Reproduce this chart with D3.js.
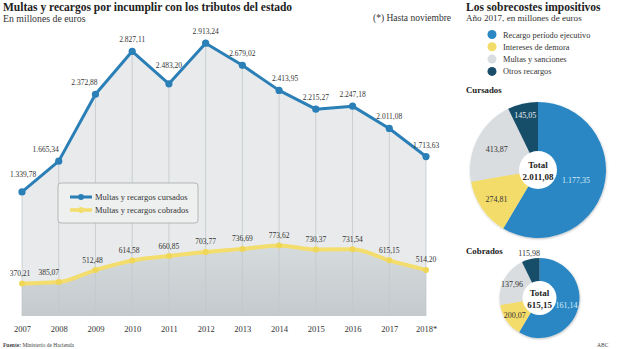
<!DOCTYPE html>
<html>
<head>
<meta charset="utf-8">
<script src="https://cdn.jsdelivr.net/npm/d3@7.9.0/dist/d3.min.js"></script>
<style>
  body { margin: 0; background: #fff; }
  svg { display: block; font-family: "Liberation Serif", "DejaVu Serif", serif; }
</style>
</head>
<body>
<svg id="chart" width="620" height="349"></svg>
<script>
// line chart data
const years = ['2007', '2008', '2009', '2010', '2011', '2012', '2013', '2014', '2015', '2016', '2017', '2018*'];
const cursados = [1339.78, 1665.34, 2372.88, 2827.11, 2483.20, 2913.24, 2679.02, 2413.95, 2215.27, 2247.18, 2011.08, 1713.63];
const cobrados = [370.21, 385.07, 512.48, 614.58, 660.85, 703.77, 736.69, 773.62, 730.37, 731.54, 615.15, 514.20];

// pie data (2017)
const pieCategories = ['Recargo período ejecutivo', 'Intereses de demora', 'Multas y sanciones', 'Otros recargos'];
const pieCursados = [1177.35, 274.81, 413.87, 145.05];
const pieCobrados = [161.14, 200.07, 137.96, 115.98];

const pieColors = ['#2b87c3', '#f4dc6b', '#d9dde0', '#194d69'];
const pieTextColors = ['#d6ecfa', '#333', '#333', '#e8f1f6'];

const fmt = d3.formatLocale({ decimal: ',', thousands: '.', grouping: [3] }).format(',.2f');

const svg = d3.select('#chart');

// ---- titles
svg.append('text').attr('x', 3).attr('y', 11)
  .attr('font-size', 11.5).attr('font-weight', 'bold').attr('fill', '#222')
  .text('Multas y recargos por incumplir con los tributos del estado');
svg.append('text').attr('x', 3).attr('y', 22)
  .attr('font-size', 9.8).attr('fill', '#333')
  .text('En millones de euros');
svg.append('text').attr('x', 373).attr('y', 21)
  .attr('font-size', 9.5).attr('fill', '#333')
  .text('(*) Hasta noviembre');

// ---- line chart
const x = d3.scalePoint().domain(years).range([22, 426]);
const y = d3.scaleLinear().domain([0, 3000]).range([318.5, 35]);
const bottom = 316;

const rows = years.map((yr, i) => ({ yr, a: cursados[i], b: cobrados[i] }));

const defs = svg.append('defs');
const grad = defs.append('linearGradient').attr('id', 'yellowArea')
  .attr('x1', 0).attr('x2', 0).attr('y1', 0).attr('y2', 1);
grad.append('stop').attr('offset', '0%').attr('stop-color', '#d6dbdd');
grad.append('stop').attr('offset', '100%').attr('stop-color', '#c4cacd');

svg.append('path')
  .datum(rows)
  .attr('fill', '#e8eaeb')
  .attr('d', d3.area().x(d => x(d.yr)).y0(bottom).y1(d => y(d.a)));

svg.append('path')
  .datum(rows)
  .attr('fill', 'url(#yellowArea)')
  .attr('d', d3.area().curve(d3.curveMonotoneX).x(d => x(d.yr)).y0(bottom).y1(d => y(d.b)));

// vertical gridlines
svg.append('g')
  .selectAll('line')
  .data(rows)
  .join('line')
  .attr('x1', d => x(d.yr)).attr('x2', d => x(d.yr))
  .attr('y1', d => y(d.a)).attr('y2', bottom)
  .attr('stroke', '#c3c8cb').attr('stroke-width', 0.8);

// year labels
svg.append('g')
  .attr('transform', `translate(0, ${bottom})`)
  .call(d3.axisBottom(x).tickSize(0).tickPadding(10))
  .call(g => g.select('.domain').remove())
  .call(g => g.selectAll('text')
    .attr('font-family', '"Liberation Serif", serif')
    .attr('font-size', 8.5).attr('fill', '#333'));

// cobrados line
svg.append('path')
  .datum(rows)
  .attr('fill', 'none')
  .attr('stroke', '#f3dd6c').attr('stroke-width', 4)
  .attr('d', d3.line().curve(d3.curveMonotoneX).x(d => x(d.yr)).y(d => y(d.b)));
svg.append('g').selectAll('circle')
  .data(rows).join('circle')
  .attr('cx', d => x(d.yr)).attr('cy', d => y(d.b))
  .attr('r', 3).attr('fill', '#f0d656');

// cursados line
svg.append('path')
  .datum(rows)
  .attr('fill', 'none')
  .attr('stroke', '#2b7fb7').attr('stroke-width', 3)
  .attr('stroke-linejoin', 'round')
  .attr('d', d3.line().x(d => x(d.yr)).y(d => y(d.a)));
svg.append('g').selectAll('circle')
  .data(rows).join('circle')
  .attr('cx', d => x(d.yr)).attr('cy', d => y(d.a))
  .attr('r', 3.6).attr('fill', '#2b7fb7');

// value labels (small nudges so they don't sit on the line)
const nudgeA = { '2008': [-13, 0], '2009': [-11, 0], '2014': [6, 0], '2007': [1, -6], '2011': [0, -7] };
const nudgeB = { '2007': [-2, 0], '2008': [-10, 0], '2009': [-3, 0], '2010': [-3, 0] };

svg.append('g').selectAll('text')
  .data(rows).join('text')
  .attr('x', d => x(d.yr) + (nudgeA[d.yr] || [0, 0])[0])
  .attr('y', d => y(d.a) - 9 + (nudgeA[d.yr] || [0, 0])[1])
  .attr('text-anchor', 'middle')
  .attr('font-size', 7.5).attr('fill', '#333')
  .text(d => fmt(d.a));

svg.append('g').selectAll('text')
  .data(rows).join('text')
  .attr('x', d => x(d.yr) + (nudgeB[d.yr] || [0, 0])[0])
  .attr('y', d => y(d.b) - 7.5)
  .attr('text-anchor', 'middle')
  .attr('font-size', 7.5).attr('fill', '#333')
  .text(d => fmt(d.b));

// legend box
const lg = svg.append('g').attr('transform', 'translate(58,183)');
lg.append('rect').attr('width', 140).attr('height', 40).attr('rx', 3)
  .attr('fill', '#eef0f0').attr('stroke', '#a5a8aa').attr('stroke-width', 0.8);
[['Multas y recargos cursados', '#2b7fb7', 3], ['Multas y recargos cobrados', '#f3dd6c', 3.5]].forEach(([label, col, w], i) => {
  const gy = 14 + i * 13;
  lg.append('line').attr('x1', 12).attr('x2', 34).attr('y1', gy).attr('y2', gy)
    .attr('stroke', col).attr('stroke-width', w);
  lg.append('circle').attr('cx', 23).attr('cy', gy).attr('r', 3).attr('fill', col);
  lg.append('text').attr('x', 37).attr('y', gy + 3)
    .attr('font-size', 8.5).attr('fill', '#333').text(label);
});

// ---- pies
svg.append('text').attr('x', 466).attr('y', 11)
  .attr('font-size', 11.5).attr('font-weight', 'bold').attr('fill', '#222')
  .text('Los sobrecostes impositivos');
svg.append('text').attr('x', 466).attr('y', 21)
  .attr('font-size', 9.1).attr('fill', '#333')
  .text('Año 2017, en millones de euros');

const pl = svg.append('g').selectAll('g')
  .data(pieCategories).join('g')
  .attr('transform', (d, i) => `translate(492, ${34.5 + i * 12.3})`);
pl.append('circle').attr('r', 4.5).attr('fill', (d, i) => pieColors[i]);
pl.append('text').attr('x', 11).attr('y', 3)
  .attr('font-size', 8.3).attr('fill', '#333').text(d => d);

const shadow = defs.append('filter').attr('id', 'shadow')
  .attr('x', '-20%').attr('y', '-20%').attr('width', '140%').attr('height', '140%');
shadow.append('feDropShadow').attr('dx', 0.5).attr('dy', 1).attr('stdDeviation', 1.2)
  .attr('flood-color', '#000').attr('flood-opacity', 0.25);

function drawPie(cx, cy, r, holeR, title, titleY, shares, values, total, labelR, fs, outsideIdx) {
  svg.append('text').attr('x', 466).attr('y', titleY)
    .attr('font-size', 8.8).attr('font-weight', 'bold').attr('fill', '#222')
    .text(title);

  const g = svg.append('g').attr('transform', `translate(${cx},${cy})`);
  const arcs = d3.pie().sort(null)(shares);
  const arc = d3.arc().innerRadius(0).outerRadius(r);

  g.append('g').attr('filter', 'url(#shadow)')
    .selectAll('path').data(arcs).join('path')
    .attr('d', arc)
    .attr('fill', (d, i) => pieColors[i]);

  g.append('circle').attr('r', holeR).attr('fill', '#fff');
  g.append('text').attr('y', -2).attr('text-anchor', 'middle')
    .attr('font-size', fs + 1).attr('font-weight', 'bold').attr('fill', '#222').text('Total');
  g.append('text').attr('y', fs + 1.5).attr('text-anchor', 'middle')
    .attr('font-size', fs + 1).attr('font-weight', 'bold').attr('fill', '#222').text(fmt(total));

  g.selectAll('text.val').data(arcs).join('text')
    .attr('class', 'val')
    .attr('transform', (d, i) => {
      const lr = i === outsideIdx ? r + 6 : r * labelR[i];
      const c = d3.arc().innerRadius(lr).outerRadius(lr).centroid(d);
      return `translate(${c[0]},${c[1] + 3})`;
    })
    .attr('text-anchor', 'middle')
    .attr('font-size', fs)
    .attr('fill', (d, i) => i === outsideIdx ? '#333' : pieTextColors[i])
    .text((d, i) => fmt(values[i]));
}

drawPie(538, 170, 68, 19, 'Cursados', 93, pieCursados, pieCursados,
  d3.sum(pieCursados), [0.58, 0.74, 0.68, 0.83], 8, -1);
// the original graphic reuses the cursados proportions for the cobrados pie
drawPie(539.5, 298, 40, 17, 'Cobrados', 254, pieCursados, pieCobrados,
  d3.sum(pieCobrados), [0.7, 0.75, 0.77, 0.8], 8, 3);

// ---- footer
const src = svg.append('text').attr('x', 3).attr('y', 347).attr('font-size', 5.5).attr('fill', '#444');
src.append('tspan').attr('font-weight', 'bold').text('Fuente: ');
src.append('tspan').text('Ministerio de Hacienda');
svg.append('text').attr('x', 597).attr('y', 347).attr('font-size', 5.5).attr('fill', '#444').text('ABC');
</script>
</body>
</html>
